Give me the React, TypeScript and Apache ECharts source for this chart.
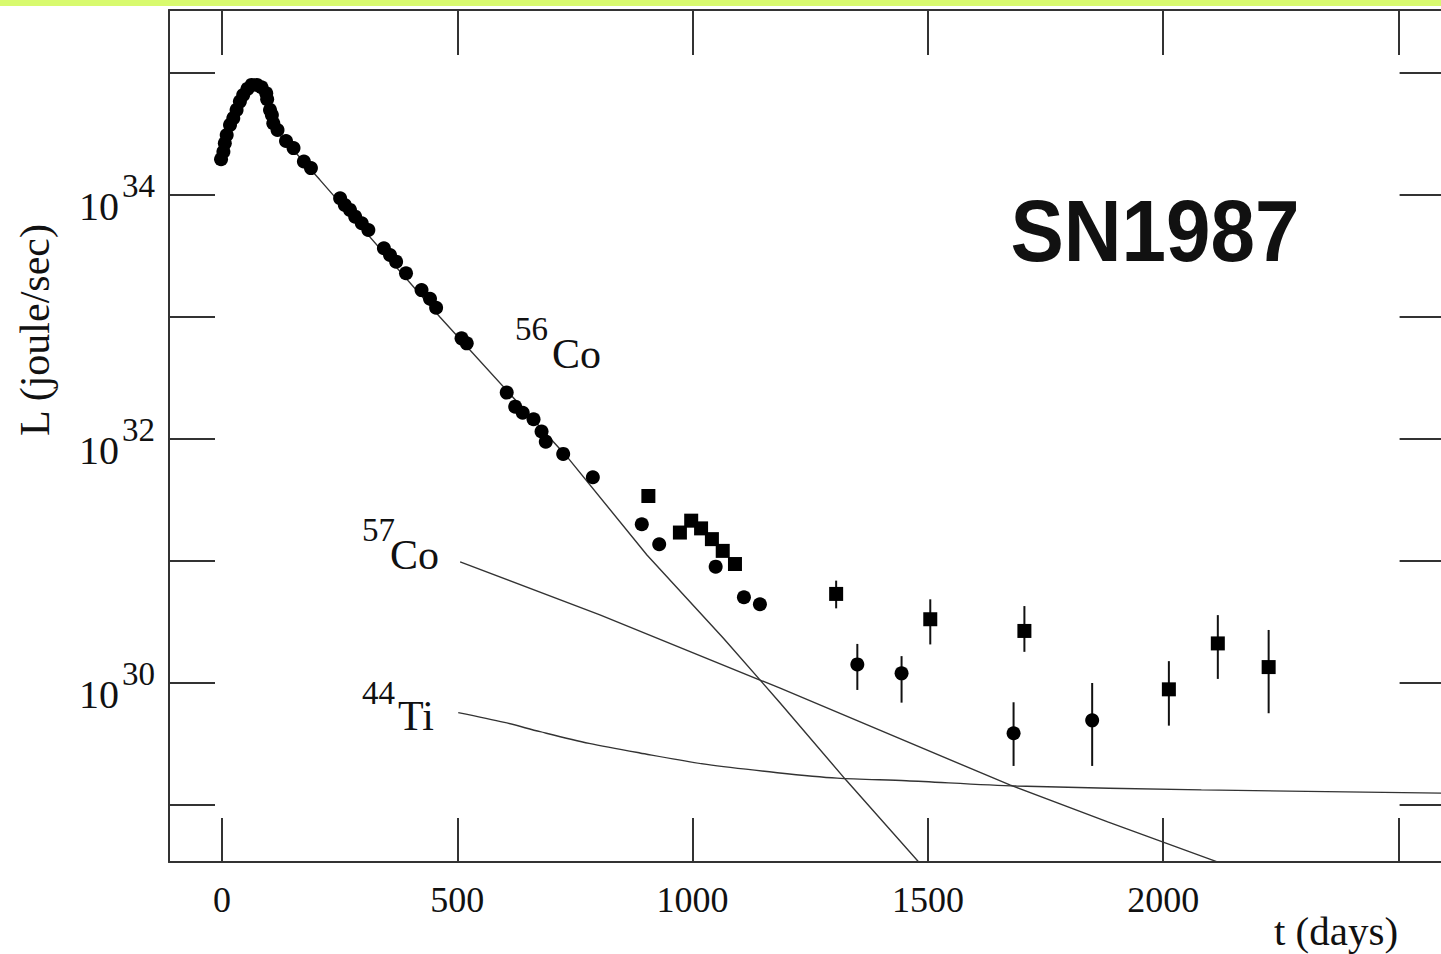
import React, { useEffect, useRef } from 'react';
import * as echarts from 'echarts';

// t (days), L (joule/sec)
const circlePoints: [number, number][] = [
  [-2, 1.96e34], [3, 2.26e34], [6, 2.65e34], [10, 3.1e34], [17, 3.75e34], [24, 4.26e34],
  [31, 4.98e34], [38, 5.82e34], [45, 6.6e34], [54, 7.4e34], [63, 7.98e34], [74, 7.98e34],
  [84, 7.64e34], [94, 6.82e34], [96, 6.08e34], [102, 4.98e34], [106, 4.53e34], [109, 3.87e34],
  [118, 3.41e34], [136, 2.77e34], [152, 2.42e34], [174, 1.88e34], [189, 1.66e34],
  [251, 9.4e33], [261, 8.28e33], [272, 7.54e33], [283, 6.64e33], [297, 5.86e33], [311, 5.16e33],
  [344, 3.66e33], [357, 3.22e33], [370, 2.84e33], [391, 2.28e33], [424, 1.66e33], [442, 1.41e33],
  [455, 1.19e33], [509, 6.68e32], [520, 6.08e32], [605, 2.4e32], [623, 1.84e32], [639, 1.64e32],
  [662, 1.45e32], [679, 1.15e32], [688, 9.5e31], [725, 7.54e31], [788, 4.85e31], [892, 2.0e31],
  [929, 1.37e31], [1049, 8.98e30], [1109, 5.04e30], [1143, 4.42e30], [1350, 1.42e30],
  [1444, 1.2e30], [1682, 3.87e29], [1849, 4.94e29],
];

const squarePoints: [number, number][] = [
  [906, 3.41e31], [973, 1.71e31], [997, 2.14e31], [1018, 1.85e31], [1041, 1.51e31],
  [1064, 1.21e31], [1090, 9.44e30], [1305, 5.37e30], [1505, 3.33e30], [1705, 2.67e30],
  [2012, 8.87e29], [2116, 2.11e30], [2224, 1.35e30],
];

// t, low, high
const errorBars: [number, number, number][] = [
  [1350, 8.77e29, 2.09e30], [1444, 6.9e29, 1.66e30], [1682, 2.09e29, 6.95e29],
  [1849, 2.09e29, 1.0e30], [1305, 4.09e30, 6.9e30], [1505, 2.07e30, 4.85e30],
  [1705, 1.8e30, 4.27e30], [2012, 4.47e29, 1.51e30], [2116, 1.08e30, 3.6e30],
  [2224, 5.65e29, 2.72e30],
];

const co56Curve: [number, number][] = [
  [102, 3.82e34], [208, 1.33e34], [463, 1.0e33], [733, 7.16e31], [903, 1.12e31],
  [1065, 2.34e30], [1186, 6.86e29], [1326, 1.6e29], [1488, 3.16e28],
];
const co57Curve: [number, number][] = [
  [506, 9.82e30], [803, 3.61e30], [1186, 9.06e29], [1674, 1.46e29], [1882, 7.28e28],
  [2125, 3.31e28], [2170, 2.86e28],
];
const ti44Curve: [number, number][] = [
  [502, 5.71e29], [600, 4.75e29], [676, 3.99e29], [780, 3.2e29], [888, 2.67e29],
  [1030, 2.15e29], [1180, 1.84e29], [1307, 1.66e29], [1454, 1.58e29], [1688, 1.43e29],
  [2081, 1.33e29], [2600, 1.25e29],
];

const xTickLabels = [0, 500, 1000, 1500, 2000];
const yLabelExponents = [30, 32, 34];

const X_MIN = -112.6;
const X_MAX = 2600;
const Y_MIN = 3.41e28;
const Y_MAX = 3.28e35;

const SERIF = "'Liberation Serif', 'Times New Roman', 'DejaVu Serif', serif";
const SANS = "'Liberation Sans', Arial, 'DejaVu Sans', sans-serif";
const INK = '#111';
const AXIS = '#333';

export default function App() {
  const ref = useRef<HTMLDivElement>(null);

  useEffect(() => {
    if (!ref.current) return;
    const chart = echarts.init(ref.current, undefined, { renderer: 'svg' });

    const tickStyle = { color: AXIS, width: 2 };
    const xFormatter = (v: number) => (xTickLabels.includes(v) ? String(v) : '');
    const yFormatter = (v: number) => {
      const e = Math.log10(v);
      const r = Math.round(e);
      return Math.abs(e - r) < 1e-6 && yLabelExponents.includes(r)
        ? `{s|${r}}\n{b|10}{sp| }`
        : '';
    };

    const text = (
      t: string, x: number, y: number, size: number, family: string,
      align: string, extra: Record<string, unknown> = {}, weight = 'normal'
    ) => ({
      type: 'text',
      x,
      y,
      ...extra,
      style: {
        text: t,
        fontSize: size,
        fontFamily: family,
        fontWeight: weight,
        fill: INK,
        align,
        textAlign: align,
        verticalAlign: 'middle',
        textVerticalAlign: 'middle',
      },
    });

    const option: any = {
      animation: false,
      backgroundColor: '#fff',
      grid: {
        left: 169,
        top: 10,
        right: 14.4,
        bottom: 92,
        containLabel: false,
        outerBoundsMode: 'none',
      },
      xAxis: [
        {
          type: 'value',
          position: 'bottom',
          min: X_MIN,
          max: X_MAX,
          splitNumber: 5,
          minInterval: 500,
          maxInterval: 500,
          axisLine: { show: true, onZero: false, lineStyle: { color: AXIS, width: 2 } },
          axisTick: { show: true, inside: true, length: 44, lineStyle: tickStyle },
          axisLabel: {
            show: true,
            formatter: xFormatter,
            fontSize: 36,
            fontFamily: SERIF,
            color: INK,
            margin: 20,
          },
          splitLine: { show: false },
        },
        {
          type: 'value',
          position: 'top',
          min: X_MIN,
          max: X_MAX,
          splitNumber: 5,
          minInterval: 500,
          maxInterval: 500,
          axisLine: { show: true, onZero: false, lineStyle: { color: AXIS, width: 2 } },
          axisTick: { show: true, inside: true, length: 45, lineStyle: tickStyle },
          axisLabel: { show: false },
          splitLine: { show: false },
        },
      ],
      yAxis: [
        {
          type: 'log',
          logBase: 10,
          position: 'left',
          min: Y_MIN,
          max: Y_MAX,
          axisLine: { show: true, onZero: false, lineStyle: { color: AXIS, width: 2 } },
          axisTick: { show: true, inside: true, length: 46, lineStyle: tickStyle },
          axisLabel: {
            show: true,
            formatter: yFormatter,
            margin: 14,
            color: INK,
            fontFamily: SERIF,
            rich: {
              s: { fontSize: 33, fontFamily: SERIF, color: INK, lineHeight: 24, align: 'right' },
              b: { fontSize: 40, fontFamily: SERIF, color: INK, lineHeight: 18, align: 'right' },
              sp: { fontSize: 12, width: 36, lineHeight: 18, align: 'right' },
            },
          },
          splitLine: { show: false },
          minorTick: { show: false },
        },
        {
          type: 'log',
          logBase: 10,
          position: 'right',
          min: Y_MIN,
          max: Y_MAX,
          axisLine: { show: true, onZero: false, lineStyle: { color: AXIS, width: 2 } },
          axisTick: { show: true, inside: true, length: 46, lineStyle: tickStyle },
          axisLabel: { show: false },
          splitLine: { show: false },
        },
      ],
      series: [
        {
          name: '56Co',
          type: 'line',
          data: co56Curve,
          showSymbol: false,
          symbol: 'none',
          lineStyle: { color: '#333', width: 1.4 },
          clip: true,
          z: 2,
        },
        {
          name: '57Co',
          type: 'line',
          data: co57Curve,
          showSymbol: false,
          symbol: 'none',
          lineStyle: { color: '#333', width: 1.4 },
          clip: true,
          z: 2,
        },
        {
          name: '44Ti',
          type: 'line',
          data: ti44Curve,
          showSymbol: false,
          symbol: 'none',
          smooth: 0.3,
          lineStyle: { color: '#333', width: 1.4 },
          clip: true,
          z: 2,
        },
        {
          name: 'errors',
          type: 'custom',
          coordinateSystem: 'cartesian2d',
          data: errorBars,
          encode: { x: 0, y: [1, 2] },
          silent: true,
          z: 3,
          renderItem: (_params: any, api: any) => {
            const lo = api.coord([api.value(0), api.value(1)]);
            const hi = api.coord([api.value(0), api.value(2)]);
            return {
              type: 'line',
              shape: { x1: lo[0], y1: lo[1], x2: hi[0], y2: hi[1] },
              style: { stroke: '#111', lineWidth: 2 },
            };
          },
        },
        {
          name: 'circles',
          type: 'scatter',
          data: circlePoints,
          symbol: 'circle',
          symbolSize: 14,
          itemStyle: { color: '#000', opacity: 1 },
          emphasis: { disabled: true },
          z: 4,
        },
        {
          name: 'squares',
          type: 'scatter',
          data: squarePoints,
          symbol: 'rect',
          symbolSize: 14,
          itemStyle: { color: '#000', opacity: 1 },
          emphasis: { disabled: true },
          z: 4,
        },
      ],
      graphic: {
        elements: [
          { type: 'rect', x: 0, y: 0, shape: { x: 0, y: 0, width: 1460, height: 6 }, style: { fill: '#d8fa6e' }, z: 10 },
          text('t (days)', 1336, 931, 41, SERIF, 'center'),
          text('L (joule/sec)', 35, 330, 42, SERIF, 'center', { rotation: Math.PI / 2 }),
          text('SN1987', 1155, 231, 80, SANS, 'center', { scaleY: 1.08 }, 'bold'),
          text('56', 515, 329, 33, SERIF, 'left'),
          text('Co', 552, 354, 42, SERIF, 'left'),
          text('57', 362, 530, 33, SERIF, 'left'),
          text('Co', 390, 555, 42, SERIF, 'left'),
          text('44', 362, 693, 33, SERIF, 'left'),
          text('Ti', 398, 716, 42, SERIF, 'left'),
        ],
      },
    };

    chart.setOption(option);
    return () => chart.dispose();
  }, []);

  return (
    <div
      style={{
        position: 'fixed',
        left: 0,
        top: 0,
        width: 1441,
        height: 954,
        overflow: 'hidden',
        background: '#fff',
      }}
    >
      <div ref={ref} style={{ width: 1460, height: 954 }} />
    </div>
  );
}
